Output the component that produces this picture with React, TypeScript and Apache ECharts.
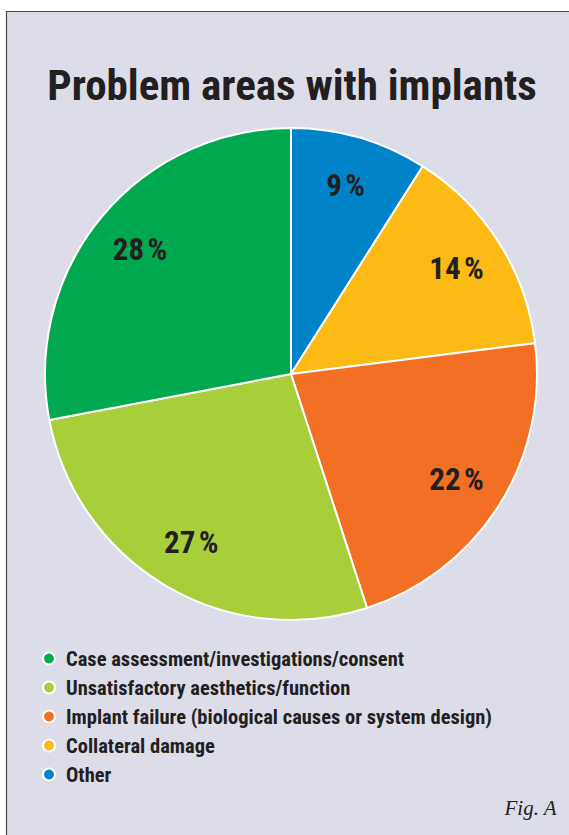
import React, { useEffect, useRef } from "react";
import * as echarts from "echarts";

const categories = [
  "Case assessment/investigations/consent",
  "Unsatisfactory aesthetics/function",
  "Implant failure (biological causes or system design)",
  "Collateral damage",
  "Other",
];
const values = [28, 27, 22, 14, 9];
const colors = ["#00a94f", "#a8cf3a", "#f36f24", "#fdb914", "#0083c9"];
// pie drawn clockwise from 12 o'clock: Other, Collateral, Implant, Unsatisfactory, Case
const drawOrder = [4, 3, 2, 1, 0];

const FONT = "'Roboto Condensed', 'Open Sans Condensed', sans-serif";

export default function App() {
  const ref = useRef<HTMLDivElement>(null);
  useEffect(() => {
    if (!ref.current) return;
    const chart = echarts.init(ref.current, null, { renderer: "svg" });
    const pieData = drawOrder.map((i) => ({
      name: categories[i],
      value: values[i],
      itemStyle: { color: colors[i] },
    }));
    chart.setOption({
      animation: false,
      graphic: [
        {
          type: "rect",
          shape: { x: 6.5, y: 11.5, width: 700, height: 900 },
          style: { fill: "#dcdde9", stroke: "#4a4a4a", lineWidth: 1.2 },
          z: -10,
        },
        {
          type: "text",
          right: 12,
          top: 797,
          style: {
            text: "Fig. A",
            font: "italic 21px 'Liberation Serif', 'DejaVu Serif', serif",
            fill: "#231f20",
          },
        },
      ],
      title: {
        text: "Problem areas with implants",
        left: 287,
        textAlign: "center",
        top: 58,
        textStyle: {
          fontFamily: FONT,
          fontWeight: "bold",
          fontSize: 43,
          color: "#231f20",
        },
      },
      legend: {
        orient: "vertical",
        left: 37,
        top: 643,
        data: categories,
        icon: "circle",
        itemWidth: 24,
        itemHeight: 12,
        itemGap: 8,
        selectedMode: false,
        textStyle: {
          fontFamily: FONT,
          fontWeight: "bold",
          fontSize: 20.5,
          color: "#231f20",
          lineHeight: 20,
        },
      },
      series: [
        {
          type: "pie",
          center: [291, 374],
          radius: [0, 246],
          startAngle: 90,
          clockwise: true,
          silent: true,
          label: { show: false },
          labelLine: { show: false },
          itemStyle: { borderColor: "#ffffff", borderWidth: 2 },
          data: pieData,
        },
        {
          type: "pie",
          center: [291, 374],
          radius: [140, 246],
          startAngle: 90,
          clockwise: true,
          silent: true,
          legendHoverLink: false,
          itemStyle: { color: "rgba(0,0,0,0)" },
          label: {
            show: true,
            position: "inside",
            formatter: "{c}\u200a%",
            fontFamily: FONT,
            fontWeight: "bold",
            fontSize: 31,
            color: "#231f20",
          },
          labelLine: { show: false },
          data: drawOrder.map((i) => ({ name: categories[i] + " ", value: values[i] })),
        },
      ],
    });
    return () => chart.dispose();
  }, []);
  return (
    <div
      ref={ref}
      style={{ position: "absolute", left: 0, top: 0, width: 569, height: 835 }}
    />
  );
}
